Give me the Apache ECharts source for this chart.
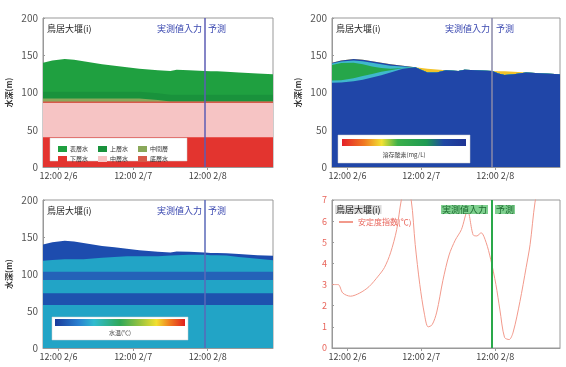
<!DOCTYPE html>
<html>
<head>
<meta charset="utf-8">
<script src="https://cdn.jsdelivr.net/npm/echarts@6/dist/echarts.min.js"></script>
<style>
html, body { margin: 0; padding: 0; background: #fff; }
#main { width: 566px; height: 367px; }
</style>
</head>
<body>
<div id="main"></div>
<script>
// 時刻 (2/6 0:00 からの時間)
var hours   = [7, 10, 14, 17, 20, 23, 26, 30, 34, 38, 41, 44, 48, 50, 54, 59, 61, 63, 66, 70, 76, 81];
var surface = [140, 143, 145, 144, 142, 140, 138, 136, 134, 132, 131, 130, 129, 130.5, 130, 129, 128.5, 128.5, 128, 127, 125.5, 124.5];
var tickHours = [12, 36, 60];
var tickLabels = ['12:00 2/6', '12:00 2/7', '12:00 2/8'];
var forecastStart = 59;

// 左上: 水塊区分 (層厚)
var tlRed   = [40, 40, 40, 40, 40, 40, 40, 40, 40, 40, 40, 40, 40, 40, 40, 40, 40, 40, 40, 40, 40, 40];
var tlPink  = [46, 46, 46, 46, 46, 46, 46, 46, 46, 46, 46, 46, 46, 46, 46, 46, 46, 46, 46, 46, 46, 46];
var tlLine  = [2, 2, 2, 2, 2, 2, 2, 2, 2, 2, 2, 2, 2, 2, 2, 2, 2, 2, 2, 2, 2, 2];
var tlOlive = [4, 4, 4, 4, 4, 4, 4, 4, 4, 4, 3, 2, 0, 0, 0, 0, 0, 0, 0, 0, 0, 0];
var tlDark  = [9, 9, 9, 9, 9, 9, 9, 9, 9, 9, 9, 9, 9, 9, 9, 9, 9, 9, 9, 9, 9, 9];

// 右上: 溶存酸素 (層厚)
var trCyan1  = [3, 3, 4, 5, 5, 5, 3, 1, 0, 0, 0, 0, 0, 0, 0, 0, 0, 0, 0, 0, 0, 0];
var trGreen  = [21, 23, 21, 16, 10, 5, 2, 0, 0, 0, 0, 0, 0, 0, 0, 0, 0, 0, 0, 0, 0, 0];
var trCyan2  = [2, 2, 3, 4, 5, 5, 4, 2, 0, 0, 0, 0, 0, 0, 0, 0, 0, 0, 0, 0, 0, 0];
var trBlue2  = [1, 1.5, 2, 2, 2, 2, 2, 1, 0, 0, 0, 0, 0, 0, 0, 0, 0, 0, 0, 0, 0, 0];
var trYellow = [0, 0, 0, 0, 0, 0, 0, 0, 0, 5, 4, 0, 0, 0, 0, 0, 3, 5, 3.5, 0, 0, 0];

// 左下: 水温 (層厚)
var blTeal1 = [58, 58, 58, 58, 58, 58, 58, 58, 58, 58, 58, 58, 58, 58, 58, 58, 58, 58, 58, 58, 58, 58];
var blDark1 = [16, 16, 16, 16, 16, 16, 16, 16, 16, 16, 16, 16, 16, 16, 16, 16, 16, 16, 16, 16, 16, 16];
var blTeal2 = [18, 18, 18, 18, 18, 18, 18, 18, 18, 18, 18, 18, 18, 18, 18, 18, 18, 18, 18, 18, 18, 18];
var blBlue2 = [11, 11, 11, 11, 11, 11, 11, 11, 11, 11, 11, 11, 11, 11, 11, 11, 11, 11, 11, 11, 11, 11];
var blTop   = [22, 24, 25, 24, 22, 19, 16, 13, 10, 8, 7, 6, 4, 5, 4, 3, 3, 3, 3, 4, 5, 6];

// 右下: 安定度指数
var brHours = [7, 9, 10.5, 13, 16, 19, 22, 24, 26, 28, 29.5, 31, 32.7, 34, 35.5, 37, 38.2, 39.5, 41, 43, 45, 47, 49, 51, 52.8, 54, 55.4, 57, 58.5, 60.2, 61.5, 63, 64.5, 65.8, 68, 70, 71.3, 72.9, 74.5, 76, 81];
var brVals  = [3.0, 3.0, 2.6, 2.45, 2.6, 2.9, 3.4, 3.8, 4.5, 5.6, 7.0, 7.8, 7.0, 4.9, 3.0, 1.6, 1.0, 1.1, 1.7, 3.2, 4.4, 5.1, 5.6, 6.5, 5.35, 5.3, 5.45, 5.0, 4.2, 3.0, 1.8, 0.5, 0.4, 0.75, 2.2, 3.8, 4.9, 6.9, 8.0, 9.0, 10.0];

var font = 'Noto Sans CJK JP';

// 表面までの残り
function rest(parts) {
    return surface.map(function (s, i) {
        var sum = 0;
        parts.forEach(function (p) { sum += p[i]; });
        return Math.max(0, s - sum);
    });
}
var tlGreen = rest([tlRed, tlPink, tlLine, tlOlive, tlDark]);
var trBase  = rest([trCyan1, trGreen, trCyan2, trBlue2, trYellow]);
var blTeal3 = rest([blTeal1, blDark1, blTeal2, blBlue2, blTop]);

// 層を下から積み上げ、上の層から先に塗る(0 から塗りつぶし)
function layers(list, gi) {
    var acc = hours.map(function () { return 0; });
    var out = list.map(function (l) {
        acc = acc.map(function (a, i) { return a + l.vals[i]; });
        return {
            type: 'line', name: l.name, xAxisIndex: gi, yAxisIndex: gi,
            symbol: 'none', silent: true,
            lineStyle: { width: 0 },
            itemStyle: { color: l.color },
            areaStyle: { color: l.color, opacity: 1 },
            data: hours.map(function (h, i) { return [h, acc[i]]; })
        };
    });
    return out.reverse();
}
function vline(color, width) {
    return {
        symbol: ['none', 'none'], silent: true, animation: false,
        label: { show: false },
        lineStyle: { color: color, width: width, type: 'solid' },
        data: [{ xAxis: forecastStart }]
    };
}

var grids = [
    { left: 43, top: 18, width: 230, height: 149 },
    { left: 332, top: 18, width: 228, height: 149 },
    { left: 43, top: 200, width: 230, height: 148 },
    { left: 332, top: 200, width: 228, height: 148 }
];
grids.forEach(function (g) { g.show = true; g.borderColor = '#999'; g.borderWidth = 1; });

var xAxes = grids.map(function (g, i) {
    return {
        type: 'value', gridIndex: i, min: 7, max: 81,
        axisLine: { lineStyle: { color: '#999' } },
        axisTick: { customValues: tickHours, length: 3, lineStyle: { color: '#999' } },
        axisLabel: {
            customValues: tickHours, color: '#444', fontSize: 9, fontFamily: font, margin: 4,
            formatter: function (v) { return tickLabels[tickHours.indexOf(v)]; }
        },
        splitLine: { show: false }
    };
});
var yAxes = grids.map(function (g, i) {
    var isLine = i === 3;
    return {
        type: 'value', gridIndex: i, min: 0, max: isLine ? 7 : 200, interval: isLine ? 1 : 50,
        name: isLine ? '' : '水深(m)', nameLocation: 'middle', nameGap: 30,
        nameTextStyle: { color: '#333', fontSize: 8, fontFamily: font, fontWeight: 'bold' },
        axisLine: { show: true, lineStyle: { color: '#999' } },
        axisTick: { show: true, inside: true, length: 2, lineStyle: { color: '#999' } },
        axisLabel: { color: isLine ? '#e8645a' : '#555', fontSize: isLine ? 9 : 10, fontFamily: font, margin: 5 },
        splitLine: { show: false }
    };
});

var s0 = layers([
    { name: '下層水', vals: tlRed, color: '#e3342f' },
    { name: '中層水', vals: tlPink, color: '#f6c4c4' },
    { name: '底層水', vals: tlLine, color: '#d65a4a' },
    { name: '中間層', vals: tlOlive, color: '#8aa85a' },
    { name: '上層水', vals: tlDark, color: '#19923c' },
    { name: '表層水', vals: tlGreen, color: '#1fa040' }
], 0);
s0[s0.length - 1].markLine = vline('#5c5cb4', 1.5);

var s1 = layers([
    { name: '', vals: trBase, color: '#2046a8' },
    { name: '', vals: trCyan1, color: '#3fb8cc' },
    { name: '', vals: trGreen, color: '#26a64a' },
    { name: '', vals: trCyan2, color: '#3fb8cc' },
    { name: '', vals: trBlue2, color: '#2046a8' },
    { name: '', vals: trYellow, color: '#f2c22a' }
], 1);
s1[s1.length - 1].markLine = vline('#8a8aa8', 1.5);

var s2 = layers([
    { name: '', vals: blTeal1, color: '#22a4c6' },
    { name: '', vals: blDark1, color: '#1e52ae' },
    { name: '', vals: blTeal2, color: '#22a4c6' },
    { name: '', vals: blBlue2, color: '#2462b8' },
    { name: '', vals: blTeal3, color: '#22a4c6' },
    { name: '', vals: blTop, color: '#1d4cae' }
], 2);
s2[s2.length - 1].markLine = vline('#5a68b8', 1.5);

var s3 = [{
    type: 'line', name: '安定度指数(℃)', xAxisIndex: 3, yAxisIndex: 3,
    symbol: 'none', smooth: 0.3, silent: true,
    itemStyle: { color: '#f29a8c' },
    lineStyle: { color: '#f29a8c', width: 1 },
    data: brHours.map(function (h, i) { return [h, brVals[i]]; }),
    markLine: vline('#2aa84a', 2)
}];

var legendBase = {
    icon: 'rect', itemWidth: 9, itemHeight: 6, itemGap: 10, z: 200,
    selectedMode: false,
    textStyle: { fontSize: 6, color: '#333', fontFamily: font, padding: [0, 0, 0, -2] }
};

function txt(x, y, s, color, size, extra) {
    var st = { text: s, fill: color, font: (size || 9) + 'px "' + font + '"' };
    if (extra) { for (var k in extra) st[k] = extra[k]; }
    return { type: 'text', x: x, y: y, z: 300, style: st };
}
function headers(x0, y0, color, line) {
    return [
        txt(x0 + 4, y0 + 6, '鳥居大堰(i)', '#222', 9),
        txt(line - 3, y0 + 6, '実測値入力', color, 9, { align: 'right' }),
        txt(line + 3, y0 + 6, '予測', color, 9)
    ];
}

var graphics = [].concat(
    headers(43, 18, '#3a48b0', 205),
    headers(332, 18, '#3a48b0', 493),
    headers(43, 200, '#3a48b0', 205),
    [
        txt(335, 205, '鳥居大堰(i)', '#222', 9, { backgroundColor: '#ddd', padding: [0, 1] }),
        txt(488, 205, '実測値入力', '#1d6a30', 9, { align: 'right', backgroundColor: '#7fd08f', padding: [0, 1] }),
        txt(495, 205, '予測', '#1d6a30', 9, { backgroundColor: '#7fd08f', padding: [0, 1] }),
        // 左上凡例の枠
        { type: 'rect', z: 150, shape: { x: 50, y: 138, width: 137, height: 23 }, style: { fill: '#fff', stroke: '#ccc', lineWidth: 0.5 } },
        // 右上カラーバー
        { type: 'rect', z: 150, shape: { x: 338, y: 135, width: 132, height: 28 }, style: { fill: '#fff', stroke: '#ccc', lineWidth: 0.5 } },
        { type: 'rect', z: 160, shape: { x: 342, y: 139, width: 124, height: 7 }, style: {
            fill: new echarts.graphic.LinearGradient(0, 0, 1, 0, [
                { offset: 0, color: '#e4202a' }, { offset: 0.18, color: '#f07a22' },
                { offset: 0.32, color: '#f2e234' }, { offset: 0.45, color: '#3cb04a' },
                { offset: 0.68, color: '#1e9a52' }, { offset: 0.82, color: '#2048a4' },
                { offset: 1, color: '#1e3494' }
            ]) } },
        txt(404, 152, '溶存酸素(mg/L)', '#444', 6, { align: 'center' }),
        // 左下カラーバー
        { type: 'rect', z: 150, shape: { x: 52, y: 317, width: 136, height: 23 }, style: { fill: '#fff', stroke: '#ccc', lineWidth: 0.5 } },
        { type: 'rect', z: 160, shape: { x: 55, y: 319, width: 130, height: 7 }, style: {
            fill: new echarts.graphic.LinearGradient(0, 0, 1, 0, [
                { offset: 0, color: '#1a3a9a' }, { offset: 0.18, color: '#2a80d0' },
                { offset: 0.3, color: '#30bcd0' }, { offset: 0.5, color: '#30a858' },
                { offset: 0.66, color: '#9cc43e' }, { offset: 0.78, color: '#f2e030' },
                { offset: 0.88, color: '#f08020' }, { offset: 1, color: '#e02020' }
            ]) } },
        txt(120, 330, '水温(℃)', '#444', 6, { align: 'center' })
    ]
);

var chart = echarts.init(document.getElementById('main'));
chart.setOption({
    animation: false,
    backgroundColor: '#fff',
    textStyle: { fontFamily: font },
    grid: grids,
    xAxis: xAxes,
    yAxis: yAxes,
    legend: [
        Object.assign({ left: 53, top: 141, data: ['表層水', '上層水', '中間層'] }, legendBase),
        Object.assign({ left: 53, top: 151, data: ['下層水', '中層水', '底層水'] }, legendBase),
        {
            left: 334, top: 213, z: 200, selectedMode: false,
            itemWidth: 14, itemHeight: 2,
            data: [{ name: '安定度指数(℃)', icon: 'rect' }],
            textStyle: { fontSize: 8, color: '#e8645a', fontFamily: font }
        }
    ],
    graphic: graphics,
    series: [].concat(s0, s1, s2, s3)
});
</script>
</body>
</html>
